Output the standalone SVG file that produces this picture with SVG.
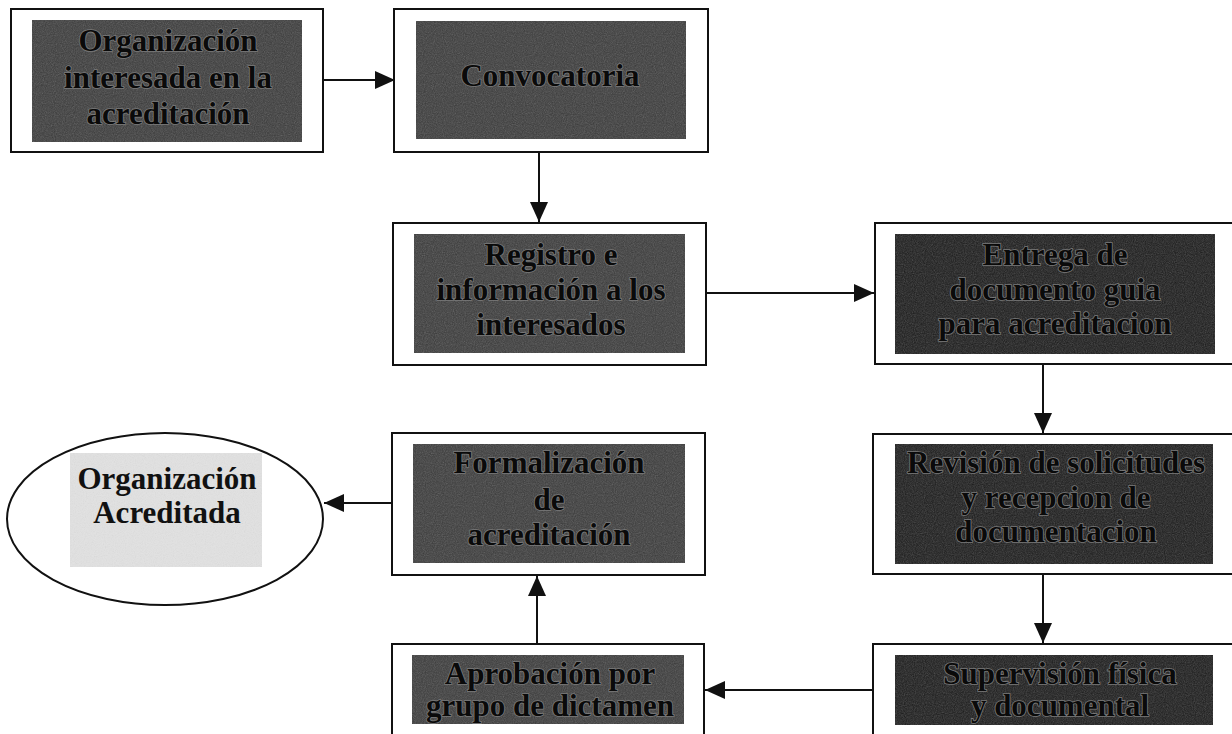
<svg xmlns="http://www.w3.org/2000/svg" width="1232" height="734" viewBox="0 0 1232 734">
<style>
.box{fill:#fff;stroke:#111;stroke-width:2}
.dark{fill:#3a3a3a}
.darker{fill:#1a1a1a}
.light{fill:#e2e2e2}
.tex{filter:url(#noise);opacity:0.3}
.t{font-family:"Liberation Serif","Times New Roman",serif;font-weight:bold;font-size:31px;text-anchor:middle;fill:#0a0a0a;stroke:#7a7a7a;stroke-width:1.6;paint-order:stroke}
.tl{font-family:"Liberation Serif","Times New Roman",serif;font-weight:bold;font-size:31px;text-anchor:middle;fill:#111}
.conn{stroke:#111;stroke-width:2;fill:none;marker-end:url(#arr)}
</style>
<defs>
<marker id="arr" markerUnits="userSpaceOnUse" markerWidth="20" markerHeight="18" refX="20" refY="9" orient="auto">
<path d="M0,0 L20,9 L0,18 z" fill="#111"/>
</marker>
<filter id="noise" x="0" y="0" width="100%" height="100%">
<feTurbulence type="fractalNoise" baseFrequency="0.9" numOctaves="2" seed="4" result="t"/>
<feColorMatrix in="t" type="saturate" values="0" result="g"/>
<feComposite in="g" in2="SourceGraphic" operator="in"/>
</filter>
</defs>
<rect width="1232" height="734" fill="#fff"/>
<g id="connectors">
<line class="conn" x1="323" y1="80" x2="395" y2="80"/>
<line class="conn" x1="539" y1="152" x2="539" y2="222"/>
<line class="conn" x1="706" y1="293" x2="874" y2="293"/>
<line class="conn" x1="1043" y1="364" x2="1043" y2="433"/>
<line class="conn" x1="1043" y1="574" x2="1043" y2="643"/>
<line class="conn" x1="873" y1="690" x2="705" y2="690"/>
<line class="conn" x1="537" y1="644" x2="537" y2="576"/>
<line class="conn" x1="392" y1="503" x2="324" y2="503"/>
</g>
<g id="n1">
<rect class="box" x="11" y="9" width="312" height="143"/>
<rect class="dark" x="32" y="20" width="270" height="122"/>
<rect class="tex" x="32" y="20" width="270" height="122" fill="#fff"/>
<text class="t" x="168" y="51">Organización</text>
<text class="t" x="168" y="88">interesada en la</text>
<text class="t" x="168" y="124">acreditación</text>
</g>
<g id="n2">
<rect class="box" x="394" y="9" width="314" height="143"/>
<rect class="dark" x="416" y="21" width="270" height="118"/>
<rect class="tex" x="416" y="21" width="270" height="118" fill="#fff"/>
<text class="t" x="550" y="86">Convocatoria</text>
</g>
<g id="n3">
<rect class="box" x="393" y="223" width="313" height="142"/>
<rect class="dark" x="414" y="234" width="271" height="119"/>
<rect class="tex" x="414" y="234" width="271" height="119" fill="#fff"/>
<text class="t" x="551" y="265">Registro e</text>
<text class="t" x="551" y="300">información a los</text>
<text class="t" x="551" y="335">interesados</text>
</g>
<g id="n4">
<rect class="box" x="875" y="223" width="370" height="141"/>
<rect class="darker" x="895" y="234" width="320" height="120"/>
<rect class="tex" x="895" y="234" width="320" height="120" fill="#fff"/>
<text class="t" x="1055" y="265">Entrega de</text>
<text class="t" x="1055" y="300">documento guia</text>
<text class="t" x="1055" y="334">para acreditacion</text>
</g>
<g id="n5">
<rect class="box" x="873" y="434" width="372" height="140"/>
<rect class="darker" x="895" y="444" width="318" height="120"/>
<rect class="tex" x="895" y="444" width="318" height="120" fill="#fff"/>
<text class="t" x="1056" y="473">Revisión de solicitudes</text>
<text class="t" x="1056" y="508">y recepcion de</text>
<text class="t" x="1056" y="542">documentacion</text>
</g>
<g id="n6">
<rect class="box" x="873" y="644" width="372" height="100"/>
<rect class="darker" x="895" y="655" width="318" height="70"/>
<rect class="tex" x="895" y="655" width="318" height="70" fill="#fff"/>
<text class="t" x="1060" y="684">Supervisión física</text>
<text class="t" x="1060" y="716">y documental</text>
</g>
<g id="n7">
<rect class="box" x="392" y="644" width="312" height="100"/>
<rect class="dark" x="412" y="655" width="272" height="69"/>
<rect class="tex" x="412" y="655" width="272" height="69" fill="#fff"/>
<text class="t" x="550" y="684">Aprobación por</text>
<text class="t" x="550" y="716">grupo de dictamen</text>
</g>
<g id="n8">
<rect class="box" x="392" y="433" width="313" height="142"/>
<rect class="dark" x="413" y="444" width="272" height="119"/>
<rect class="tex" x="413" y="444" width="272" height="119" fill="#fff"/>
<text class="t" x="549" y="473">Formalización</text>
<text class="t" x="549" y="510">de</text>
<text class="t" x="549" y="545">acreditación</text>
</g>
<g id="n9">
<ellipse class="box" cx="165" cy="519" rx="158" ry="86"/>
<rect class="light" x="70" y="453" width="192" height="114"/>
<rect class="tex" x="70" y="453" width="192" height="114" fill="#fff" style="opacity:0.15"/>
<text class="tl" x="167" y="489">Organización</text>
<text class="tl" x="167" y="523">Acreditada</text>
</g>
</svg>
